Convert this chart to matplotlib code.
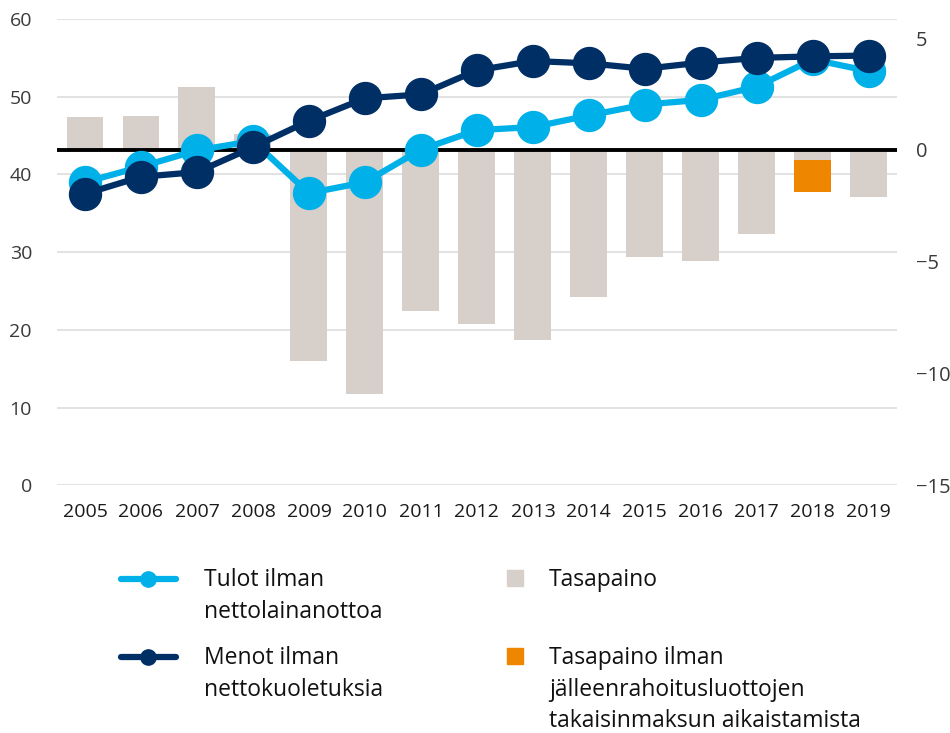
import numpy as np
import matplotlib.pyplot as plt
from matplotlib.lines import Line2D
from matplotlib.patches import Rectangle

plt.rcParams['font.family'] = ['Open Sans', 'DejaVu Sans']

years = ['2005', '2006', '2007', '2008', '2009', '2010', '2011', '2012',
         '2013', '2014', '2015', '2016', '2017', '2018', '2019']
tulot = [39.0, 41.0, 43.1, 44.3, 37.6, 39.0, 43.2, 45.7, 46.1, 47.6,
         49.0, 49.6, 51.3, 54.8, 53.3]
menot = [37.5, 39.7, 40.3, 43.5, 46.9, 49.8, 50.3, 53.4, 54.6, 54.3,
         53.6, 54.4, 55.0, 55.2, 55.3]
tasapaino = [1.45, 1.5, 2.8, 0.7, -9.45, -10.9, -7.2, -7.8, -8.5, -6.6,
             -4.8, -4.95, -3.78, -0.45, -2.12]
# extra part without the early repayment of refinancing loans (2018 only)
ilman_extra = [0, 0, 0, 0, 0, 0, 0, 0, 0, 0, 0, 0, 0, -1.43, 0]

c_light = '#00b0e8'
c_dark = '#002f65'
c_bar = '#d6cfca'
c_orange = '#ee8600'
c_text = '#3a3a3a'

fig = plt.figure(figsize=(9.5, 7.33), dpi=100)
ax = fig.add_axes([0.06, 0.338, 0.884, 0.636])
ax2 = ax.twinx()

x = np.arange(len(years))
r_lo, r_hi = -15, 5.85

# bars on the right axis, drawn behind the lines
ax2.bar(x, tasapaino, width=0.66, color=c_bar, zorder=1)
ax2.bar(x, ilman_extra, width=0.66, bottom=tasapaino, color=c_orange, zorder=1)
ax2.axhline(0, color='black', lw=2.8, zorder=2)
ax2.set_ylim(r_lo, r_hi)
ax2.set_yticks([-15, -10, -5, 0, 5])

# lines on the left axis, but above the bars
ax.set_zorder(ax2.get_zorder() + 1)
ax.patch.set_visible(False)
ax.plot(x, tulot, color=c_light, lw=4.5, marker='o', ms=23, zorder=3)
ax.plot(x, menot, color=c_dark, lw=4.5, marker='o', ms=23, zorder=4)
ax.set_ylim(0, 60)
ax.set_yticks(range(0, 61, 10))
ax.set_xlim(-0.5, len(years) - 0.5)
ax.set_xticks(x)
ax.set_xticklabels(years)

# grid lives on the bar axis so it sits behind the bars
for v in range(0, 61, 10):
    ax2.axhline(r_lo + v * (r_hi - r_lo) / 60, color='#dddddd', lw=1.2, zorder=0)

for a in (ax, ax2):
    for s in a.spines.values():
        s.set_visible(False)
    a.tick_params(length=0, colors=c_text)
ax.tick_params(axis='y', labelsize=14, pad=18)
ax.tick_params(axis='x', labelsize=14, pad=13, colors='#1a1a1a')
ax2.tick_params(axis='y', labelsize=14.5, pad=14)

# legend, drawn by hand to keep the multi-line labels aligned like the original
def fx(px):
    return px / 950

def fy(py):
    return 1 - py / 733

lfs = 16.5
for yy, col, lab in [(579, c_light, 'Tulot ilman\nnettolainanottoa'),
                     (657, c_dark, 'Menot ilman\nnettokuoletuksia')]:
    fig.add_artist(Line2D([fx(121), fx(176)], [fy(yy), fy(yy)], color=col,
                          lw=4.5, solid_capstyle='round', transform=fig.transFigure))
    fig.add_artist(Line2D([fx(148)], [fy(yy)], color=col, marker='o', ms=11,
                          transform=fig.transFigure))
    fig.text(fx(204), fy(yy - 11), lab, fontsize=lfs, va='top', ha='left',
             linespacing=1.42, color='#111111')

for yy, col, lab in [(579, c_bar, 'Tasapaino'),
                     (657, c_orange, 'Tasapaino ilman\njälleenrahoitusluottojen\ntakaisinmaksun aikaistamista')]:
    fig.add_artist(Rectangle((fx(507), fy(yy + 7)), fx(16), 16 / 733, color=col,
                             transform=fig.transFigure))
    fig.text(fx(549), fy(yy - 11), lab, fontsize=lfs, va='top', ha='left',
             linespacing=1.42, color='#111111')

fig.savefig('out.png', dpi=100)
